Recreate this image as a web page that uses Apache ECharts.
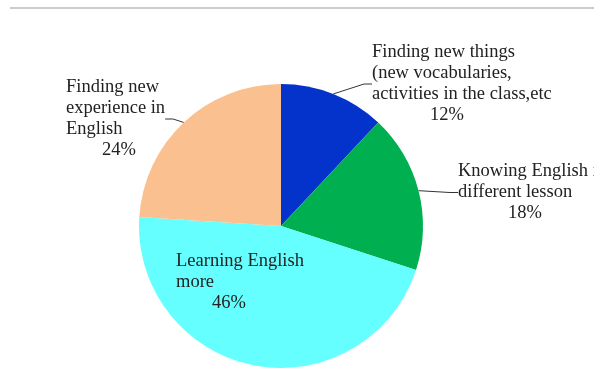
<!DOCTYPE html>
<html>
<head>
<meta charset="utf-8">
<script src="https://cdn.jsdelivr.net/npm/echarts@6/dist/echarts.min.js"></script>
<style>
  html, body { margin: 0; padding: 0; background: #fff; }
  #chart { width: 594px; height: 376px; }
</style>
</head>
<body>
<div id="chart"></div>
<script>
// slices, clockwise from 12 o'clock
const names = [
  'Finding new things\n(new vocabularies,\nactivities in the class,etc',
  'Knowing English in\ndifferent lesson',
  'Learning English\nmore',
  'Finding new\nexperience in\nEnglish'
]
const values = [12, 18, 46, 24]
const colors = ['#0433cc', '#00b050', '#66ffff', '#fac090']
// where each label box starts (left, top) and how far the % line is indented
const labelPos = [[372, 42, 58], [458, 161, 50], [176, 251, 36], [66, 77, 36]]

const chart = echarts.init(document.getElementById('chart'))

const pctStyle = i => ({
  fontFamily: 'Liberation Serif', fontSize: 18.5, lineHeight: 21, color: '#222',
  padding: [0, 0, 0, labelPos[i][2]]
})

chart.setOption({
  animation: false,
  graphic: [{
    type: 'line',
    shape: { x1: 10, y1: 8, x2: 594, y2: 8 },
    style: { stroke: '#999', lineWidth: 1 }
  }],
  series: [{
    type: 'pie',
    center: [281, 226],
    radius: 142,
    startAngle: 90,
    clockwise: true,
    avoidLabelOverlap: false,
    itemStyle: { borderWidth: 0 },
    label: {
      show: true,
      position: 'outside',
      fontFamily: 'Liberation Serif',
      fontSize: 18.5,
      lineHeight: 21,
      color: '#222',
      align: 'left',
      formatter: p => p.name + '\n{p' + p.dataIndex + '|' + p.value + '%}',
      rich: { p0: pctStyle(0), p1: pctStyle(1), p2: pctStyle(2), p3: pctStyle(3) }
    },
    labelLine: {
      show: true,
      length: 10,
      length2: 8,
      lineStyle: { color: '#333', width: 1 }
    },
    labelLayout: function (params) {
      const lp = labelPos[params.dataIndex]
      return { x: lp[0], y: lp[1], align: 'left', verticalAlign: 'top' }
    },
    data: values.map((v, i) => ({
      name: names[i],
      value: v,
      itemStyle: { color: colors[i] },
      labelLine: { show: i !== 2 }
    }))
  }]
})
</script>
</body>
</html>
